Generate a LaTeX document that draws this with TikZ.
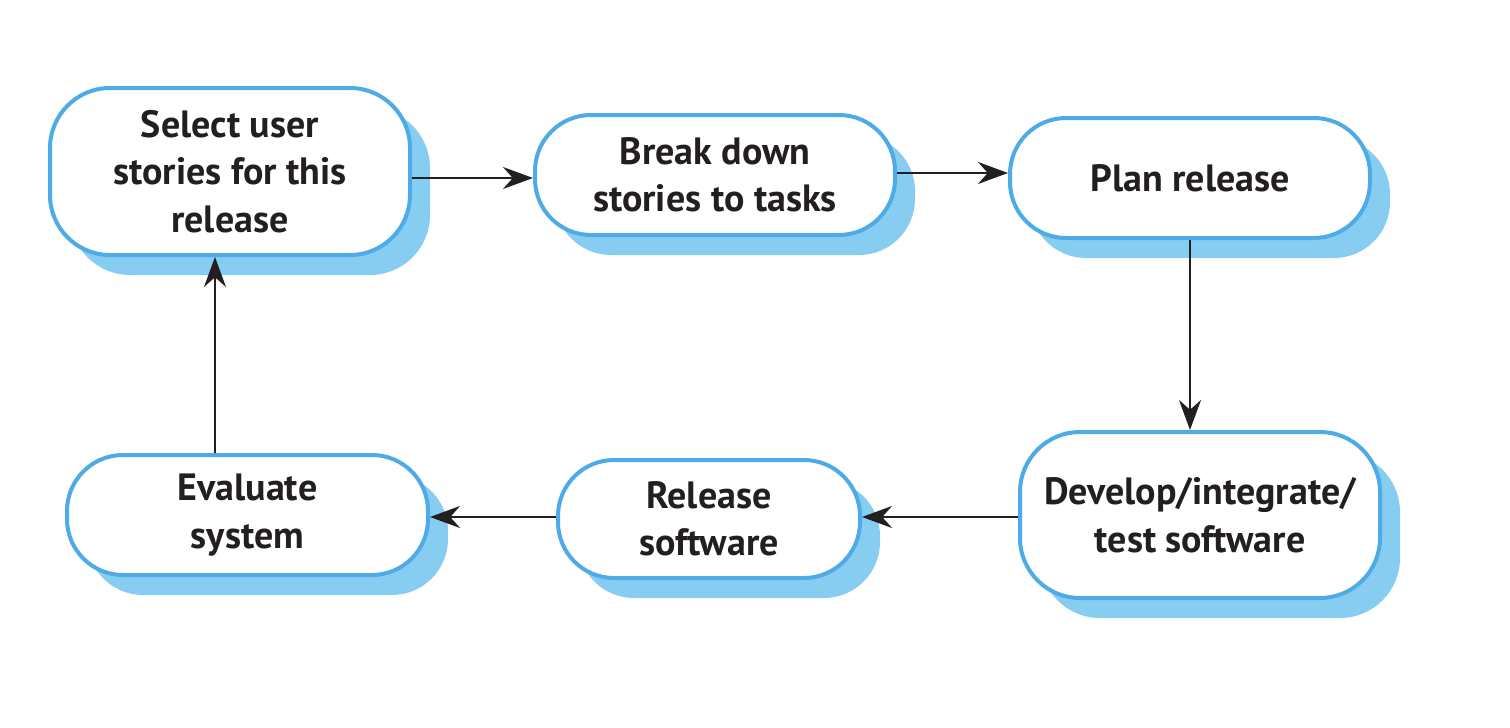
\documentclass[tikz,border=0pt]{standalone}
\usepackage{fontspec}
\setmainfont{PT Sans}
\usetikzlibrary{arrows.meta,shadows}
\definecolor{boxblue}{HTML}{4EABE8}
\definecolor{shadowblue}{HTML}{87CDF2}
\definecolor{inkblack}{HTML}{231F20}
\tikzset{
  stage/.style={draw=boxblue, line width=4pt, fill=white, rounded corners=#1,
    align=center, text=inkblack, inner sep=0pt,
    font=\fontsize{38}{47.5}\selectfont\bfseries,
    drop shadow={shadow xshift=20pt, shadow yshift=-20pt, fill=shadowblue, opacity=1}},
  stage/.default=56pt,
  arr/.style={draw=inkblack, line width=2pt, -{Stealth[length=30pt,width=22pt]}}
}
\begin{document}
\begin{tikzpicture}[x=1pt,y=-1pt]
\useasboundingbox (0,0) rectangle (1510,728);
\node[stage=60pt, minimum width=360pt, minimum height=167pt] (n1) at (230,171.5) {Select user\\stories for this\\release};
\node[stage, minimum width=360pt, minimum height=120pt] (n2) at (715,175) {Break down\\stories to tasks};
\node[stage, minimum width=360pt, minimum height=120pt] (n3) at (1190,178) {Plan release};
\node[stage=60pt, minimum width=360pt, minimum height=166pt] (n4) at (1200,515) {Develop/integrate/\\test software};
\node[stage, minimum width=302pt, minimum height=118pt] (n5) at (709,519) {Release\\software};
\node[stage, minimum width=361pt, minimum height=120pt] (n6) at (247.5,515) {Evaluate\\system};
\draw[arr] (n1.east |- 0,178) -- (n2.west |- 0,178);
\draw[arr] (n2.east |- 0,173) -- (n3.west |- 0,173);
\draw[arr] (n3.south) -- (n3.south |- n4.north);
\draw[arr] (n4.west |- 0,517) -- (n5.east |- 0,517);
\draw[arr] (n5.west |- 0,517) -- (n6.east |- 0,517);
\draw[arr] (n6.north -| 215,0) -- (n1.south -| 215,0);
\end{tikzpicture}
\end{document}
